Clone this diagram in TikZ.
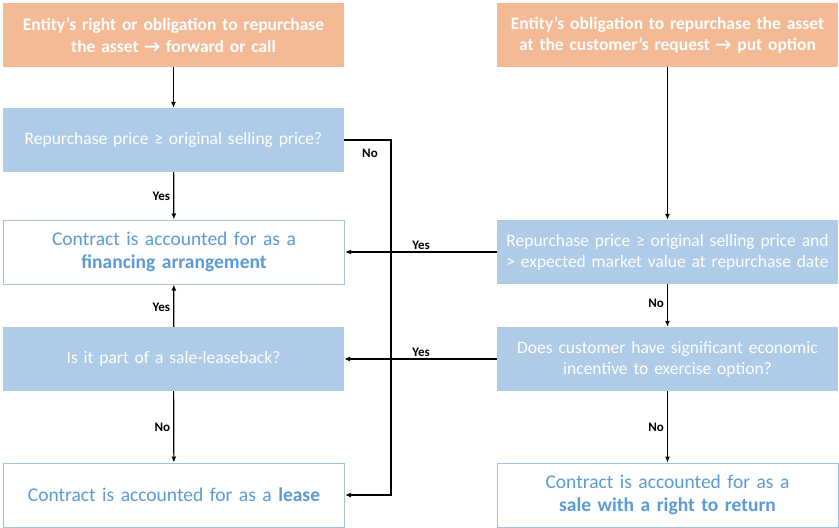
\documentclass[tikz,border=0pt]{standalone}
\usepackage{fontspec}
\setmainfont{Carlito}
\usetikzlibrary{arrows.meta,calc}
\definecolor{orangefill}{HTML}{F4B995}
\definecolor{bluefill}{HTML}{AECBE8}
\definecolor{blueline}{HTML}{9DC3E6}
\definecolor{bluetext}{HTML}{5B9BD5}
\begin{document}
\begin{tikzpicture}[x=1pt,y=-1pt,
  base/.style={minimum width=341pt,minimum height=64pt,inner sep=0pt,
    text width=339pt,align=center},
  startbox/.style={base,fill=orangefill,text=white,
    font=\fontsize{17.5}{21.5}\selectfont\bfseries},
  askbox/.style={base,fill=bluefill,text=white,
    font=\fontsize{17.5}{21}\selectfont},
  endbox/.style={base,fill=white,draw=blueline,line width=1pt,text=bluetext,
    font=\fontsize{19.5}{23}\selectfont},
  arr/.style={draw=black,line width=1.2pt,-{Latex[length=6pt,width=5pt]}},
  lbl/.style={font=\fontsize{13}{15}\selectfont\bfseries,text=black,inner sep=1pt}]
\useasboundingbox (0,0) rectangle (839,528);

% left column
\node[startbox] (s1) at (173.5,35) {Entity’s right or obligation to repurchase\\the asset → forward or call};
\node[askbox] (q1) at (173.5,140) {Repurchase price ≥ original selling price?};
\node[endbox] (fin) at (174,252) {Contract is accounted for as a\\\textbf{financing arrangement}};
\node[askbox] (q2) at (173.5,359) {Is it part of a sale-leaseback?};
\node[endbox] (lease) at (174,495) {Contract is accounted for as a \textbf{lease}};

% right column
\node[startbox] (s2) at (667.5,35) {Entity’s obligation to repurchase the asset\\at the customer’s request → put option};
\node[askbox] (q3) at (667.5,252) {Repurchase price ≥ original selling price and\\> expected market value at repurchase date};
\node[askbox] (q4) at (667.5,359) {Does customer have significant economic\\incentive to exercise option?};
\node[endbox] (ret) at (667.5,495) {Contract is accounted for as a\\\textbf{sale with a right to return}};

\coordinate (nox) at (391,0);

% connectors
\draw[arr] (s1) -- (q1);
\draw[arr] (q1) -- node[lbl,left=2pt,pos=0.5] {Yes} (fin);
\draw[arr] (q1.east) -- (nox |- q1.east) -- (nox |- lease.east) -- (lease.east);
\draw[arr] (q2) -- node[lbl,left=2pt,pos=0.45] {Yes} (fin);
\draw[arr] (q2) -- node[lbl,left=2pt,pos=0.5] {No} (lease);
\draw[arr] (s2) -- (q3);
\draw[arr] (q3.west) -- (fin.east);
\draw[arr] (q3) -- node[lbl,left=2pt,pos=0.45] {No} (q4);
\draw[arr] (q4.west) -- (q2.east);
\draw[arr] (q4) -- node[lbl,left=2pt,pos=0.5] {No} (ret);

% branch labels
\node[lbl] (lno) at (370,153) {No};
\node[lbl] (lyes1) at (421,245) {Yes};
\node[lbl] (lyes2) at (421,352) {Yes};
\end{tikzpicture}
\end{document}
